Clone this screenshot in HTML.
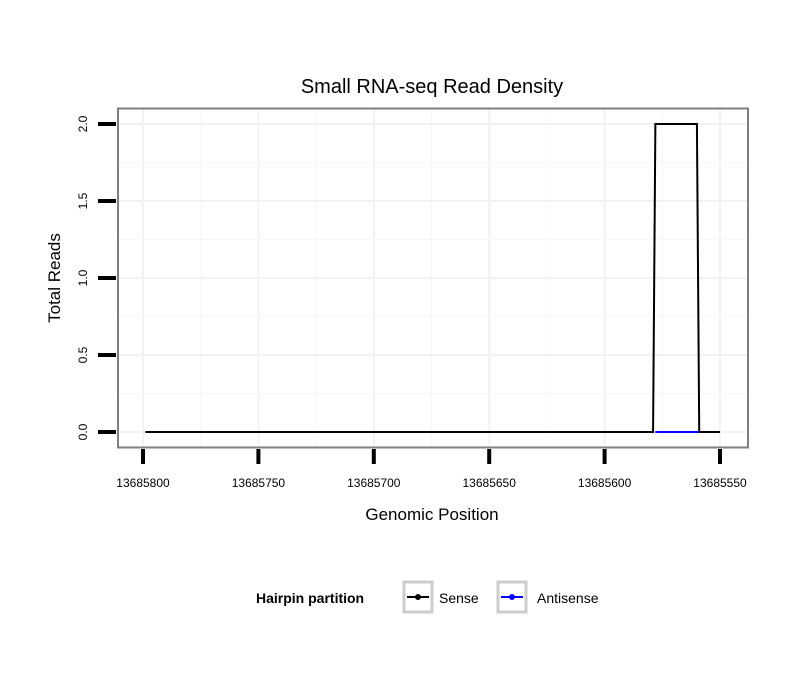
<!DOCTYPE html>
<html><head><meta charset="utf-8"><style>body{margin:0;background:#fff}svg{display:block;font-family:"Liberation Sans",sans-serif}</style></head>
<body>
<svg id="c" width="810" height="690"></svg>
<script>
const xTicks=[13685800,13685750,13685700,13685650,13685600,13685550];
const yTicks=[0,0.5,1.0,1.5,2.0];
const yTickLabels=["0.0","0.5","1.0","1.5","2.0"];
const sensePos=[13685799,13685579,13685578,13685560,13685559,13685550];
const senseVal=[0,0,2,2,0,0];
const antiPos=[13685578,13685559];
const antiVal=[0,0];
const NS="http://www.w3.org/2000/svg",svg=document.getElementById('c');
const X=v=>143+(13685800-v)*577/250, Y=v=>432-v*154;
function el(t,a,p){const e=document.createElementNS(NS,t);for(const k in a)e.setAttribute(k,a[k]);(p||svg).appendChild(e);return e;}
const grid=el('g',{});
for(let i=0;i<xTicks.length;i++){el('line',{x1:X(xTicks[i]),x2:X(xTicks[i]),y1:109,y2:447,stroke:'#f2f2f2','stroke-width':2},grid);
 if(i<xTicks.length-1){const m=(xTicks[i]+xTicks[i+1])/2;el('line',{x1:X(m),x2:X(m),y1:109,y2:447,stroke:'#f7f7f7','stroke-width':1},grid);}}
for(let i=0;i<yTicks.length;i++){el('line',{x1:118,x2:748,y1:Y(yTicks[i]),y2:Y(yTicks[i]),stroke:'#f2f2f2','stroke-width':2},grid);
 if(i<yTicks.length-1){const m=(yTicks[i]+yTicks[i+1])/2;el('line',{x1:118,x2:748,y1:Y(m),y2:Y(m),stroke:'#f7f7f7','stroke-width':1},grid);}}
function line(px,py,col,name){const p=el('polyline',{points:px.map((v,i)=>X(v)+','+Y(py[i])).join(' '),fill:'none',stroke:col,'stroke-width':2});}
line(sensePos,senseVal,'#000','sense-line');
line(antiPos,antiVal,'#0000ff','antisense-line');
const fr=el('rect',{x:118,y:108.5,width:630,height:339,fill:'none',stroke:'#7f7f7f','stroke-width':2});
xTicks.forEach(v=>{el('line',{x1:X(v),x2:X(v),y1:449,y2:464,stroke:'#000','stroke-width':4});
 const t=el('text',{x:X(v),y:487,'font-size':12,'text-anchor':'middle'});t.textContent=v;});
yTicks.forEach((v,i)=>{el('line',{x1:98,x2:116,y1:Y(v),y2:Y(v),stroke:'#000','stroke-width':4});
 const t=el('text',{x:0,y:0,'font-size':12,'text-anchor':'middle',transform:`translate(87,${Y(v)}) rotate(-90)`});t.textContent=yTickLabels[i];});
</script>
<svg width="0" height="0"></svg>
<div style="position:absolute;left:0;top:0;width:810px;height:690px;pointer-events:none">
<svg width="810" height="690" style="font-family:'Liberation Sans',sans-serif">
<text x="432" y="93" font-size="20" text-anchor="middle">Small RNA-seq Read Density</text>
<text x="432" y="520" font-size="17" text-anchor="middle">Genomic Position</text>
<text transform="translate(60,278) rotate(-90)" font-size="17" text-anchor="middle">Total Reads</text>
<g>
<text x="256" y="603" font-size="14" font-weight="bold">Hairpin partition</text>
<g>
<rect x="404" y="582" width="28" height="30" fill="#fff" stroke="#ccc" stroke-width="3"/>
<line x1="407" x2="429" y1="597" y2="597" stroke="#000" stroke-width="2"/><circle cx="418" cy="597" r="3" fill="#000"/>
<text x="439" y="603" font-size="14">Sense</text></g>
<g>
<rect x="498" y="582" width="28" height="30" fill="#fff" stroke="#ccc" stroke-width="3"/>
<line x1="501" x2="523" y1="597" y2="597" stroke="#00f" stroke-width="2"/><circle cx="512" cy="597" r="3" fill="#00f"/>
<text x="537" y="603" font-size="14">Antisense</text></g>
</g>
</svg></div>
</body></html>
